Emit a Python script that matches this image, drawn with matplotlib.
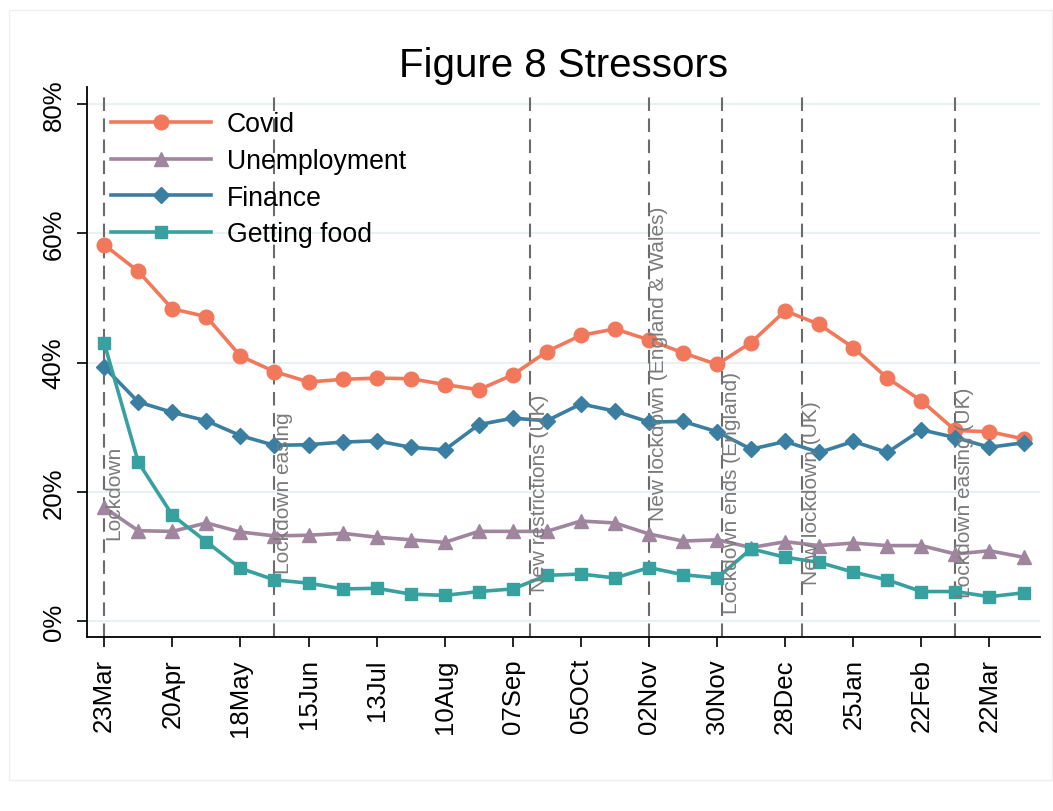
import matplotlib
matplotlib.use("Agg")
import matplotlib.pyplot as plt
import pandas as pd
from matplotlib.patches import Rectangle

plt.rcParams['font.family'] = ['Liberation Sans', 'DejaVu Sans']

# survey waves (fortnightly)
dates = pd.to_datetime([
    '2020-03-23', '2020-04-06', '2020-04-20', '2020-05-04', '2020-05-18',
    '2020-06-01', '2020-06-15', '2020-06-29', '2020-07-13', '2020-07-27',
    '2020-08-10', '2020-08-24', '2020-09-07', '2020-09-21', '2020-10-05',
    '2020-10-19', '2020-11-02', '2020-11-16', '2020-11-30', '2020-12-14',
    '2020-12-28', '2021-01-11', '2021-01-25', '2021-02-08', '2021-02-22',
    '2021-03-08', '2021-03-22', '2021-04-05'])

covid = [58.2, 54.1, 48.3, 47.1, 41.0, 38.6, 37.0, 37.4, 37.6, 37.5,
         36.6, 35.8, 38.1, 41.7, 44.2, 45.2, 43.5, 41.5, 39.7, 43.1,
         48.0, 45.9, 42.3, 37.6, 34.1, 29.5, 29.3, 28.2]
unemployment = [17.6, 14.0, 13.9, 15.2, 13.8, 13.2, 13.3, 13.6, 13.0, 12.6,
                12.2, 13.9, 13.9, 13.9, 15.5, 15.2, 13.5, 12.4, 12.6, 11.4,
                12.3, 11.7, 12.1, 11.7, 11.7, 10.4, 10.9, 9.9]
finance = [39.3, 33.9, 32.3, 31.0, 28.7, 27.2, 27.3, 27.7, 27.9, 26.9,
           26.5, 30.4, 31.4, 31.0, 33.6, 32.5, 30.8, 30.9, 29.3, 26.6,
           27.8, 26.1, 27.8, 26.1, 29.6, 28.4, 26.9, 27.6]
food = [43.0, 24.6, 16.4, 12.3, 8.2, 6.4, 5.9, 5.0, 5.1, 4.2,
        4.0, 4.6, 5.0, 7.1, 7.3, 6.7, 8.3, 7.2, 6.7, 11.2,
        9.9, 9.1, 7.6, 6.4, 4.6, 4.6, 3.8, 4.4]

tick_dates = pd.to_datetime([
    '2020-03-23', '2020-04-20', '2020-05-18', '2020-06-15', '2020-07-13',
    '2020-08-10', '2020-09-07', '2020-10-05', '2020-11-02', '2020-11-30',
    '2020-12-28', '2021-01-25', '2021-02-22', '2021-03-22'])
tick_labels = ['23Mar', '20Apr', '18May', '15Jun', '13Jul', '10Aug', '07Sep',
               '05OCt', '02Nov', '30Nov', '28Dec', '25Jan', '22Feb', '22Mar']

events = pd.to_datetime(['2020-03-23', '2020-06-01', '2020-09-14', '2020-11-02',
                         '2020-12-02', '2021-01-04', '2021-03-08'])
event_labels = ['Lockdown', 'Lockdown easing', 'New restrictions (UK)',
                'New lockdown (England & Wales)', 'Lockdown ends (England)',
                'New lockdown (UK)', 'Lockdown easing (UK)']
event_ypos = [20, 20, 20, 40, 20, 20, 20]

fig = plt.figure(figsize=(10.53, 8.12), dpi=100)
ax = fig.add_axes([0.0826, 0.2143, 0.9051, 0.6773])

# faint outer frame
fig.patches.append(Rectangle((9 / 1053, 1 - 781 / 812), 1043 / 1053, 770 / 812,
                             transform=fig.transFigure, fill=False,
                             edgecolor='#efefef', linewidth=1))

for y in [0, 20, 40, 60, 80]:
    ax.axhline(y, color='#e9f1f3', linewidth=1.5, zorder=0)

for d, lab, yp in zip(events, event_labels, event_ypos):
    ax.axvline(d, ymin=0, ymax=0.989, color='#6b6b6b', linewidth=1.5,
               linestyle=(0, (6.5, 3.6)), zorder=1)
    ax.text(d, yp, lab, rotation=90, ha='left', va='center',
            fontsize=15, color='#7b7b7b', zorder=5)

ax.plot(dates, covid, color='#f2785c', lw=2.6, marker='o', ms=10.5,
        label='Covid', zorder=3)
ax.plot(dates, unemployment, color='#a0859f', lw=2.6, marker='^', ms=10,
        label='Unemployment', zorder=3)
ax.plot(dates, finance, color='#3a7ea1', lw=2.6, marker='D', ms=8,
        label='Finance', zorder=3)
ax.plot(dates, food, color='#36a19f', lw=2.6, marker='s', ms=9,
        label='Getting food', zorder=3)

ax.set_ylim(-2.43, 82.6)
ax.set_xlim(pd.Timestamp('2020-03-23') - pd.Timedelta(days=7.1),
            pd.Timestamp('2020-03-23') + pd.Timedelta(days=384.8))

ax.set_yticks([0, 20, 40, 60, 80])
ax.set_yticklabels(['0%', '20%', '40%', '60%', '80%'], rotation=90, va='center')
ax.set_xticks(tick_dates)
ax.set_xticklabels(tick_labels, rotation=90)
ax.tick_params(axis='both', labelsize=18.5, length=7.2, width=1.2, pad=8)

for s in ['top', 'right']:
    ax.spines[s].set_visible(False)
for s in ['left', 'bottom']:
    ax.spines[s].set_linewidth(1.3)

ax.set_title('Figure 8 Stressors', fontsize=29, pad=8)

ax.legend(loc='upper left', bbox_to_anchor=(0.008, 0.985), frameon=False,
          fontsize=19.2, handlelength=3.75, handletextpad=0.6, labelspacing=0.4,
          borderaxespad=0.2)

fig.savefig('out.png', dpi=100)
